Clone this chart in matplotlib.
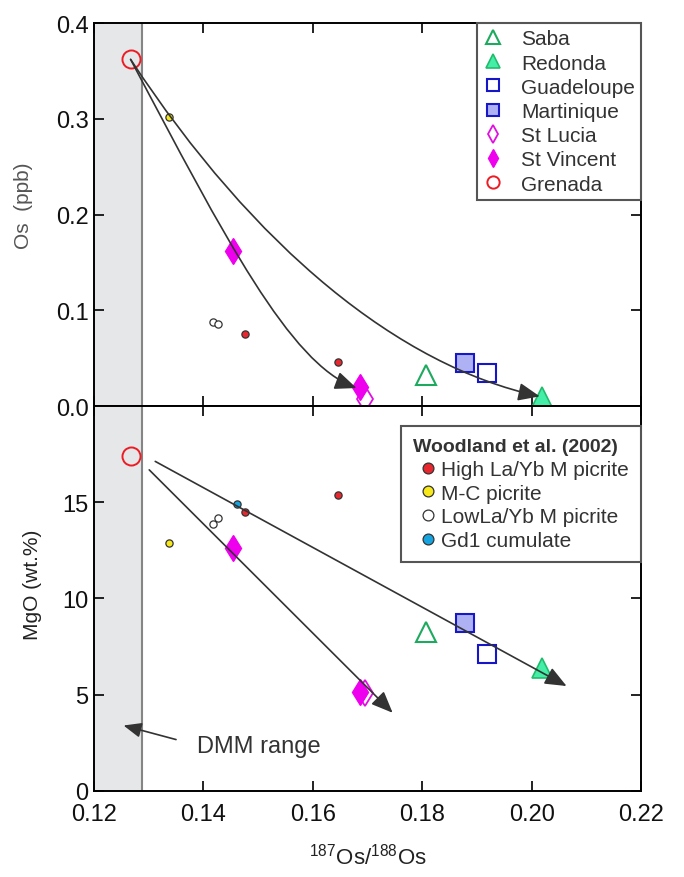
import numpy as np
import matplotlib.pyplot as plt
from matplotlib.path import Path
from matplotlib.patches import FancyArrowPatch

plt.rcParams['font.family'] = ['Liberation Sans', 'DejaVu Sans']
plt.rcParams['mathtext.default'] = 'regular'

# Lesser Antilles lavas: 187Os/188Os, Os (ppb), MgO (wt.%)
saba_x = [0.1807]
saba_os = [0.032]
saba_mgo = [8.24]

redonda_x = [0.2019]
redonda_os = [0.0096]
redonda_mgo = [6.37]

guad_x = [0.1918]
guad_os = [0.034]
guad_mgo = [7.1]

mart_x = [0.1878]
mart_os = [0.045]
mart_mgo = [8.73]

lucia_x = [0.1696]
lucia_os = [0.007]
lucia_mgo = [5.1]

vincent_x = [0.1454, 0.1686]
vincent_os = [0.162, 0.020]
vincent_mgo = [12.6, 5.15]

grenada_x = [0.1267]
grenada_os = [0.362]
grenada_mgo = [17.4]

# Woodland et al. (2002)
hi_x = [0.1476, 0.1646]
hi_os = [0.0757, 0.046]
hi_mgo = [14.51, 15.36]

mc_x = [0.1338]
mc_os = [0.302]
mc_mgo = [12.86]

lo_x = [0.1417, 0.1427]
lo_os = [0.0875, 0.0855]
lo_mgo = [13.89, 14.18]

gd_x = [0.1461]
gd_os = [np.nan]
gd_mgo = [14.9]

dmm_max = 0.1288

# trend curves (bezier control points, x / Os)
curve1_x = [0.1267, 0.1440, 0.1558, 0.1680]
curve1_y = [0.362, 0.175, 0.0448, 0.0188]
curve2_x = [0.1267, 0.1494, 0.1759, 0.2015]
curve2_y = [0.362, 0.1646, 0.0417, 0.0101]

# straight trends in MgO panel (start, end)
trend1_x = [0.1312, 0.2064]
trend1_y = [17.12, 5.45]
trend2_x = [0.1301, 0.1746]
trend2_y = [16.68, 4.06]

islands = [
    ('Saba', saba_x, saba_os, saba_mgo, dict(marker='^', ms=15, mfc='none', mec='#1daa5e', mew=1.5)),
    ('Redonda', redonda_x, redonda_os, redonda_mgo, dict(marker='^', ms=15, mfc='#44eea6', mec='#22bb6e', mew=1.2)),
    ('Guadeloupe', guad_x, guad_os, guad_mgo, dict(marker='s', ms=13.5, mfc='none', mec='#1616c8', mew=1.5)),
    ('Martinique', mart_x, mart_os, mart_mgo, dict(marker='s', ms=13.5, mfc='#aeb2f4', mec='#1818c8', mew=1.5)),
    ('St Lucia', lucia_x, lucia_os, lucia_mgo, dict(marker='d', ms=13.5, mfc='white', mec='#e010e0', mew=1.3)),
    ('St Vincent', vincent_x, vincent_os, vincent_mgo, dict(marker='d', ms=13.5, mfc='#ee00ee', mec='#ee00ee', mew=1.0)),
    ('Grenada', grenada_x, grenada_os, grenada_mgo, dict(marker='o', ms=13, mfc='none', mec='#ec1c24', mew=1.4)),
]

woodland = [
    ('High La/Yb M picrite', hi_x, hi_os, hi_mgo, '#e8282e'),
    ('M-C picrite', mc_x, mc_os, mc_mgo, '#f6e81a'),
    ('LowLa/Yb M picrite', lo_x, lo_os, lo_mgo, 'white'),
    ('Gd1 cumulate', gd_x, gd_os, gd_mgo, '#16a4e0'),
]

arrow_style = '-|>,head_length=0.6,head_width=0.25'
line_col = '#333333'

fig = plt.figure(figsize=(6.84, 8.78), dpi=100)
ax1 = fig.add_axes([0.1374, 0.5364, 0.7997, 0.4362])
ax2 = fig.add_axes([0.1374, 0.0980, 0.7997, 0.4385])

for ax in (ax1, ax2):
    ax.axvspan(0.12, dmm_max, color='#e6e7e9', zorder=0, lw=0)
    ax.axvline(dmm_max, color='#858585', lw=1.5, zorder=1)
    ax.set_xlim(0.12, 0.22)
    ax.set_xticks(np.arange(0.12, 0.2201, 0.02))
    ax.tick_params(direction='in', length=7, width=1.3, top=True, right=True,
                   labelsize=17, colors='#111111', pad=4)
    ax.tick_params(axis='x', pad=9)
    for s in ax.spines.values():
        s.set_linewidth(1.4)

# woodland points
for lab, x, yos, ymg, c in woodland:
    ax1.plot(x, yos, 'o', ms=5.2, mfc=c, mec='#333333', mew=0.9, zorder=3)
    ax2.plot(x, ymg, 'o', ms=5.2, mfc=c, mec='#333333', mew=0.9, zorder=3, label=lab)

# islands
for lab, x, yos, ymg, st in islands:
    ax1.plot(x, yos, ls='none', zorder=4, label=lab, **st)
    ax2.plot(x, ymg, ls='none', zorder=4, **st)

# curved trends in Os panel
codes = [Path.MOVETO, Path.CURVE4, Path.CURVE4, Path.CURVE4]
for cx, cy in ((curve1_x, curve1_y), (curve2_x, curve2_y)):
    p = Path(np.column_stack([cx, cy]), codes)
    ar = FancyArrowPatch(path=p, arrowstyle=arrow_style, mutation_scale=22,
                         color=line_col, lw=1.2, zorder=5)
    ax1.add_patch(ar)

# straight trends in MgO panel
for tx, ty in ((trend1_x, trend1_y), (trend2_x, trend2_y)):
    ax2.annotate('', xy=(tx[1], ty[1]), xytext=(tx[0], ty[0]),
                 arrowprops=dict(arrowstyle=arrow_style, mutation_scale=22, color=line_col,
                                 lw=1.2, shrinkA=0, shrinkB=0), zorder=5)

# DMM label
ax2.annotate('', xy=(0.1254, 3.40), xytext=(0.1350, 2.67),
             arrowprops=dict(arrowstyle=arrow_style, mutation_scale=18, color=line_col,
                             lw=1.2, shrinkA=0, shrinkB=0))
ax2.text(0.1388, 2.36, 'DMM range', fontsize=17, va='center', color='#333333')

ax1.set_ylim(0, 0.4)
ax1.set_yticks([0.0, 0.1, 0.2, 0.3, 0.4])
ax1.set_yticklabels(['0.0', '0.1', '0.2', '0.3', '0.4'])
ax1.tick_params(labelbottom=False)
ax1.set_ylabel('Os  (ppb)', fontsize=15, color='#555555')
ax1.yaxis.set_label_coords(-0.112, 0.525)

ax2.set_ylim(0, 20)
ax2.set_yticks([0, 5, 10, 15])
ax2.set_xticklabels(['0.12', '0.14', '0.16', '0.18', '0.20', '0.22'])
ax2.set_ylabel('MgO (wt.%)', fontsize=15, color='#222222')
ax2.yaxis.set_label_coords(-0.095, 0.538)
ax2.set_xlabel('$^{187}$Os/$^{188}$Os', fontsize=16, color='#222222')
ax2.xaxis.set_label_coords(0.5, -0.135)

leg1 = ax1.legend(loc='upper right', borderaxespad=0, fancybox=False, edgecolor='#555555',
                  framealpha=1, fontsize=15, markerscale=0.68, handlelength=0.94,
                  handletextpad=0.88, borderpad=0.3, labelspacing=0.25, labelcolor='#333333')
leg1.get_frame().set_linewidth(1.5)

leg2 = ax2.legend(loc='upper right', bbox_to_anchor=(1.0, 0.948), borderaxespad=0,
                  fancybox=False, edgecolor='#555555', framealpha=1, fontsize=15,
                  title='Woodland et al. (2002)',
                  title_fontproperties={'weight': 'bold', 'size': 14},
                  alignment='left', markerscale=1.5, handlelength=1.44, handletextpad=-0.1,
                  borderpad=0.58, labelspacing=0.23, labelcolor='#333333')
leg2.get_frame().set_linewidth(1.5)
leg2.get_title().set_color('#333333')

fig.savefig('out.png', dpi=100)
